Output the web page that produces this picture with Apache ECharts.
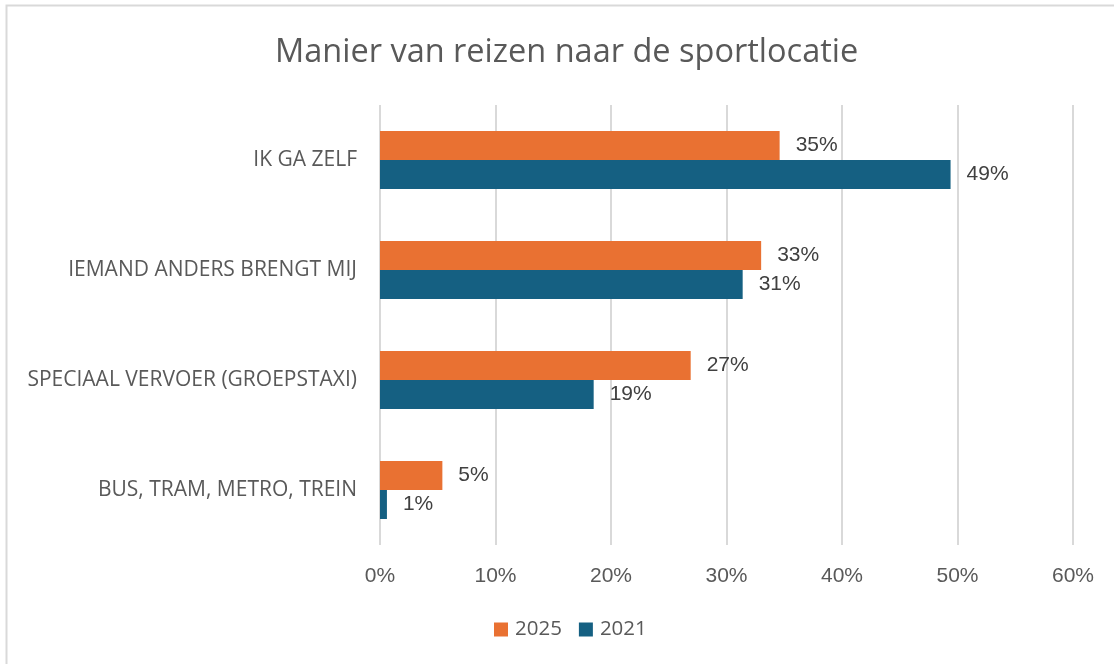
<!DOCTYPE html>
<html>
<head>
<meta charset="utf-8">
<script src="https://cdn.jsdelivr.net/npm/echarts@6/dist/echarts.min.js"></script>
<style>
  html, body { margin: 0; padding: 0; background: #fff; }
  #chart { width: 1114px; height: 664px; }
</style>
</head>
<body>
<div id="chart"></div>
<script>
// categories top to bottom
const categories = [
  "IK GA ZELF",
  "IEMAND ANDERS BRENGT MIJ",
  "SPECIAAL VERVOER (GROEPSTAXI)",
  "BUS, TRAM, METRO, TREIN"
];
const seriesNames = ["2025", "2021"];
const values2025 = [34.6, 33.0, 26.9, 5.4];
const values2021 = [49.4, 31.4, 18.5, 0.6];
const xTicks = [0, 10, 20, 30, 40, 50, 60];

const chart = echarts.init(document.getElementById("chart"));

const labelStyle = {
  show: true,
  position: "right",
  distance: 16,
  color: "#404040",
  fontFamily: "Liberation Sans",
  fontSize: 21,
  formatter: (p) => Math.round(p.value) + "%"
};

const option = {
  animation: false,
  title: {
    text: "Manier van reizen naar de sportlocatie",
    left: 270,
    top: 31,
    textStyle: { color: "#595959", fontFamily: "Open Sans", fontSize: 32.5, fontWeight: "normal" }
  },
  graphic: [{
    type: "rect",
    shape: { x: 6.5, y: 5.5, width: 1300, height: 800 },
    style: { fill: "none", stroke: "#d9d9d9", lineWidth: 2 },
    silent: true
  }],
  legend: {
    data: seriesNames,
    bottom: 19,
    left: 489,
    itemWidth: 14,
    itemHeight: 14,
    itemGap: 17,
    icon: "rect",
    textStyle: { color: "#595959", fontFamily: "Open Sans", fontSize: 20.5, padding: [0, 0, 0, 2] }
  },
  grid: { left: 380, right: 41, top: 105, bottom: 119, containLabel: false },
  xAxis: {
    type: "value",
    min: xTicks[0],
    max: xTicks[xTicks.length - 1],
    interval: 10,
    axisLine: { show: false },
    axisTick: { show: false },
    splitLine: { lineStyle: { color: "#d9d9d9", width: 2 } },
    axisLabel: {
      color: "#595959",
      fontFamily: "Liberation Sans",
      fontSize: 21,
      margin: 21,
      formatter: (v) => v + "%"
    }
  },
  yAxis: {
    type: "category",
    data: categories,
    inverse: true,
    axisLine: { show: false },
    axisTick: { show: false },
    axisLabel: { color: "#595959", fontFamily: "Open Sans", fontSize: 21, margin: 23 }
  },
  series: [
    {
      name: seriesNames[0],
      type: "bar",
      data: values2025,
      barWidth: 29,
      barGap: "0%",
      itemStyle: { color: "#E97132" },
      label: labelStyle
    },
    {
      name: seriesNames[1],
      type: "bar",
      data: values2021,
      barWidth: 29,
      barGap: "0%",
      itemStyle: { color: "#156082" },
      label: labelStyle
    }
  ]
};

chart.setOption(option);
</script>
</body>
</html>
